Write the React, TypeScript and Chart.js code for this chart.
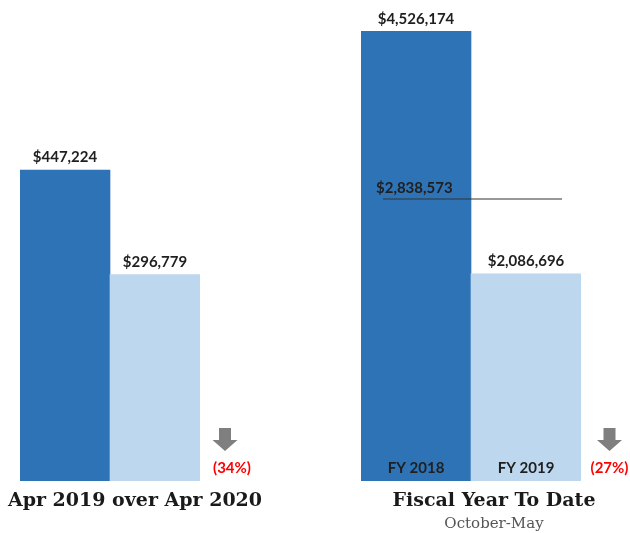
import React, { useEffect, useRef } from "react";
import { Chart, registerables } from "chart.js";

Chart.register(...registerables);

// ---- Data ----
const monthCategories = ["Apr 2019", "Apr 2020"];
const monthValues = [447224, 296779];
const monthChange = "(34%)";
const monthTitle = "Apr 2019 over Apr 2020";

const fyCategories = ["FY 2018", "FY 2019"];
const fyValues = [4526174, 2086696];
const fyAverage = 2838573;
const fyChange = "(27%)";
const fyTitle = "Fiscal Year To Date";
const fySubtitle = "October-May";

const DARK = "#2E73B5";
const LIGHT = "#BDD7EE";
const LABEL_FONT = "bold 15px Lato, 'Noto Sans', sans-serif";
const TITLE_FONT = "bold 19px 'DejaVu Serif', serif";

const fmt = (v: number) => "$" + v.toLocaleString("en-US");

function drawArrow(ctx: CanvasRenderingContext2D, cx: number, top: number) {
  ctx.save();
  ctx.fillStyle = "#7F7F7F";
  ctx.beginPath();
  ctx.moveTo(cx - 6, top);
  ctx.lineTo(cx + 6, top);
  ctx.lineTo(cx + 6, top + 12);
  ctx.lineTo(cx + 12.5, top + 12);
  ctx.lineTo(cx, top + 23);
  ctx.lineTo(cx - 12.5, top + 12);
  ctx.lineTo(cx - 6, top + 12);
  ctx.closePath();
  ctx.fill();
  ctx.restore();
}

type Cfg = {
  categories: string[];
  values: number[];
  max: number;
  padLeft: number;
  padRight: number;
  showCategories: boolean;
  average?: number;
  change: string;
  changeX: number;
  title: string;
  subtitle?: string;
  arrowX: number;
  titleX: number;
};

function makeChart(canvas: HTMLCanvasElement, cfg: Cfg) {
  const overlay = {
    id: "overlay",
    afterDatasetsDraw(chart: any) {
      const ctx: CanvasRenderingContext2D = chart.ctx;
      const meta = chart.getDatasetMeta(0);
      const yScale = chart.scales.y;
      ctx.save();
      ctx.textAlign = "center";
      ctx.fillStyle = "#1F1F1F";
      ctx.font = LABEL_FONT;
      // value labels
      meta.data.forEach((bar: any, i: number) => {
        ctx.textBaseline = "bottom";
        ctx.fillText(fmt(cfg.values[i]), bar.x, bar.y - 5);
        if (cfg.showCategories) {
          ctx.textBaseline = "middle";
          ctx.fillText(cfg.categories[i], bar.x, yScale.getPixelForValue(0) - 13);
        }
      });
      // average line
      if (cfg.average !== undefined) {
        const y = yScale.getPixelForValue(cfg.average);
        const b0 = meta.data[0];
        const b1 = meta.data[1];
        const x0 = b0.x - b0.width / 2 + 22;
        const x1 = b1.x + b1.width / 2 - 19;
        ctx.strokeStyle = "#333333";
        ctx.lineWidth = 1.2;
        ctx.beginPath();
        ctx.moveTo(x0, y);
        ctx.lineTo(x1, y);
        ctx.stroke();
        ctx.textAlign = "left";
        ctx.textBaseline = "bottom";
        ctx.fillText(fmt(cfg.average), x0 - 7, y - 3);
      }
      // arrow and change
      const base = yScale.getPixelForValue(0);
      drawArrow(ctx, cfg.arrowX, base - 53);
      ctx.textAlign = "center";
      ctx.textBaseline = "middle";
      ctx.fillStyle = "#FF0000";
      ctx.font = LABEL_FONT;
      ctx.fillText(cfg.change, cfg.changeX, base - 13);
      // titles
      ctx.fillStyle = "#1A1A1A";
      ctx.font = TITLE_FONT;
      ctx.fillText(cfg.title, cfg.titleX, base + 20);
      if (cfg.subtitle) {
        ctx.fillStyle = "#555555";
        ctx.font = "15px 'DejaVu Serif', serif";
        ctx.fillText(cfg.subtitle, cfg.titleX, base + 43);
      }
      ctx.restore();
    },
  };

  return new Chart(canvas, {
    type: "bar",
    data: {
      labels: cfg.categories,
      datasets: [
        {
          data: cfg.values,
          backgroundColor: [DARK, LIGHT],
          borderWidth: 0,
          categoryPercentage: 1,
          barPercentage: 1,
        },
      ],
    },
    options: {
      animation: false,
      responsive: false,
      maintainAspectRatio: false,
      layout: { padding: { top: 29, bottom: 52, left: cfg.padLeft, right: cfg.padRight } },
      plugins: { legend: { display: false }, tooltip: { enabled: false }, title: { display: false } },
      scales: {
        x: { display: false },
        y: { display: false, min: 0, max: cfg.max },
      },
    },
    plugins: [overlay],
  });
}

export default function App() {
  const leftRef = useRef<HTMLCanvasElement>(null);
  const rightRef = useRef<HTMLCanvasElement>(null);

  useEffect(() => {
    const left = makeChart(leftRef.current!, {
      categories: monthCategories,
      values: monthValues,
      max: 650000,
      padLeft: 20,
      padRight: 115,
      showCategories: false,
      change: monthChange,
      changeX: 232,
      title: monthTitle,
      arrowX: 225,
      titleX: 135,
    });
    const right = makeChart(rightRef.current!, {
      categories: fyCategories,
      values: fyValues,
      max: 4550000,
      padLeft: 46,
      padRight: 49,
      showCategories: true,
      average: fyAverage,
      change: fyChange,
      changeX: 294.5,
      title: fyTitle,
      subtitle: fySubtitle,
      arrowX: 294.5,
      titleX: 179,
    });
    return () => {
      left.destroy();
      right.destroy();
    };
  }, []);

  return (
    <div style={{ position: "fixed", left: 0, top: 0, width: 630, height: 533, background: "#fff" }}>
      <canvas ref={leftRef} width={315} height={533} style={{ position: "absolute", left: 0, top: 0, width: 315, height: 533 }} />
      <canvas ref={rightRef} width={315} height={533} style={{ position: "absolute", left: 315, top: 0, width: 315, height: 533 }} />
    </div>
  );
}
